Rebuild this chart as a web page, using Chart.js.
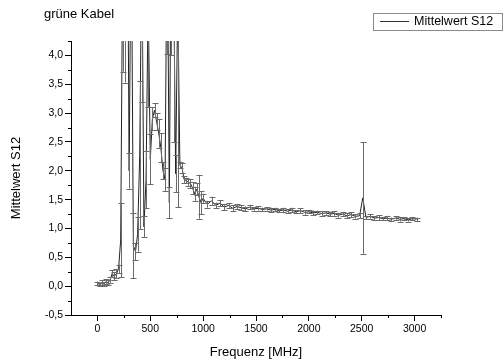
<!DOCTYPE html>
<html>
<head>
<meta charset="utf-8">
<script src="https://cdn.jsdelivr.net/npm/chart.js@4"></script>
<style>
  html, body { margin: 0; padding: 0; background: #fff; }
  canvas { display: block; }
</style>
</head>
<body>
<canvas id="s12Chart" width="504" height="364"></canvas>
<script>
// Messdaten: Frequenz in MHz, Mittelwert S12 und Fehler
var freq = [
  0, 20, 40, 60, 80, 100, 120, 140, 160, 180,
  200, 220, 240, 260, 280, 300, 320, 340, 360, 380,
  400, 420, 440, 460, 480, 500, 520, 540, 560, 580,
  600, 620, 640, 660, 680, 700, 720, 740, 760, 780,
  800, 820, 840, 860, 880, 900, 920, 940, 960, 980,
  1000, 1040, 1080, 1120, 1160, 1200, 1240, 1280, 1320, 1360,
  1400, 1440, 1480, 1520, 1560, 1600, 1640, 1680, 1720, 1760,
  1800, 1840, 1880, 1920, 1960, 2000, 2040, 2080, 2120, 2160,
  2200, 2240, 2280, 2320, 2360, 2400, 2440, 2480, 2510, 2540,
  2580, 2620, 2660, 2700, 2740, 2780, 2820, 2860, 2900, 2940,
  2980, 3020
];
var s12 = [
  0.05, 0.03, 0.06, 0.04, 0.08, 0.06, 0.11, 0.22, 0.17, 0.22,
  0.30, 0.80, 6.0, 5.2, 8.0, 2.0, 6.5, 0.70, 0.60, 0.90,
  2.27, 6.0, 1.03, 1.85, 5.0, 2.2, 2.9, 3.05, 2.85, 2.65,
  2.4, 2.0, 1.85, 6.5, 1.45, 7.0, 5.5, 1.95, 5.0, 2.1,
  2.05, 1.85, 1.83, 1.80, 1.78, 1.70, 1.60, 1.68, 1.55, 1.45,
  1.52, 1.42, 1.48, 1.40, 1.44, 1.37, 1.40, 1.35, 1.38, 1.36,
  1.34, 1.37, 1.34, 1.35, 1.33, 1.34, 1.32, 1.33, 1.31, 1.32,
  1.30, 1.32, 1.29, 1.31, 1.28, 1.29, 1.27, 1.28, 1.26, 1.27,
  1.25, 1.26, 1.23, 1.25, 1.22, 1.24, 1.21, 1.22, 1.53, 1.19,
  1.21, 1.18, 1.19, 1.17, 1.18, 1.16, 1.18, 1.16, 1.17, 1.15,
  1.17, 1.16
];
var s12Err = [
  0.03, 0.03, 0.04, 0.03, 0.04, 0.04, 0.05, 0.06, 0.07, 0.08,
  0.07, 0.64, 2.28, 1.67, 3.0, 0.31, 2.0, 0.56, 0.15, 0.30,
  1.28, 2.8, 0.18, 0.50, 1.9, 0.43, 0.20, 0.12, 0.15, 0.25,
  0.25, 0.15, 0.20, 2.48, 0.27, 3.0, 3.0, 0.32, 3.63, 0.06,
  0.08, 0.06, 0.05, 0.06, 0.08, 0.10, 0.12, 0.10, 0.38, 0.20,
  0.08, 0.06, 0.07, 0.05, 0.05, 0.05, 0.04, 0.05, 0.04, 0.04,
  0.04, 0.04, 0.03, 0.04, 0.03, 0.03, 0.04, 0.03, 0.03, 0.04,
  0.03, 0.04, 0.03, 0.04, 0.04, 0.03, 0.04, 0.03, 0.04, 0.03,
  0.04, 0.04, 0.04, 0.03, 0.04, 0.04, 0.04, 0.04, 0.97, 0.03,
  0.04, 0.03, 0.04, 0.03, 0.04, 0.03, 0.03, 0.04, 0.03, 0.03,
  0.03, 0.03
];

// Achsenbeschriftung
var xTickValues = [0, 500, 1000, 1500, 2000, 2500, 3000];
var yTickValues = [-0.5, 0, 0.5, 1, 1.5, 2, 2.5, 3, 3.5, 4];
var xMinorTicks = [250, 750, 1250, 1750, 2250, 2750, 3250];
var yMinorTicks = [-0.25, 0.25, 0.75, 1.25, 1.75, 2.25, 2.75, 3.25, 3.75, 4.25];

var chartTitle = "grüne Kabel";
var seriesName = "Mittelwert S12";
var xTitle = "Frequenz [MHz]";
var yTitle = "Mittelwert S12";

var FONT = "'Liberation Sans', Arial, sans-serif";

var points = freq.map(function (f, i) {
  return { x: f, y: s12[i] };
});

// Fehlerbalken mit Kappen
var errorBars = {
  id: "errorBars",
  afterDatasetsDraw: function (chart) {
    var ctx = chart.ctx;
    var area = chart.chartArea;
    var xs = chart.scales.x;
    var ys = chart.scales.y;
    ctx.save();
    ctx.beginPath();
    ctx.rect(area.left, area.top, area.right - area.left, area.bottom - area.top);
    ctx.clip();
    ctx.strokeStyle = "#6a6a6a";
    ctx.lineWidth = 1;
    for (var i = 0; i < freq.length; i++) {
      var px = Math.round(xs.getPixelForValue(freq[i])) + 0.5;
      var top = ys.getPixelForValue(s12[i] + s12Err[i]);
      var bot = ys.getPixelForValue(s12[i] - s12Err[i]);
      ctx.beginPath();
      ctx.moveTo(px, top);
      ctx.lineTo(px, bot);
      ctx.moveTo(px - 3, Math.round(top) + 0.5);
      ctx.lineTo(px + 3, Math.round(top) + 0.5);
      ctx.moveTo(px - 3, Math.round(bot) + 0.5);
      ctx.lineTo(px + 3, Math.round(bot) + 0.5);
      ctx.stroke();
    }
    ctx.restore();
  },
};

// kleine Zwischenstriche, Titel und Legende
var decorations = {
  id: "decorations",
  afterDraw: function (chart) {
    var ctx = chart.ctx;
    var area = chart.chartArea;
    var xs = chart.scales.x;
    var ys = chart.scales.y;
    ctx.save();
    ctx.strokeStyle = "#000";
    ctx.lineWidth = 1;
    ctx.beginPath();
    xMinorTicks.forEach(function (v) {
      var px = Math.round(xs.getPixelForValue(v)) + 0.5;
      ctx.moveTo(px, area.bottom);
      ctx.lineTo(px, area.bottom + 3);
    });
    yMinorTicks.forEach(function (v) {
      var py = Math.round(ys.getPixelForValue(v)) + 0.5;
      ctx.moveTo(area.left - 3, py);
      ctx.lineTo(area.left, py);
    });
    ctx.stroke();

    ctx.fillStyle = "#000";
    ctx.textBaseline = "middle";
    ctx.textAlign = "left";
    ctx.font = "13px " + FONT;
    ctx.fillText(chartTitle, 44, 14);

    ctx.strokeStyle = "#8a8a8a";
    ctx.strokeRect(373.5, 13.5, 129, 17);
    ctx.strokeStyle = "#333";
    ctx.beginPath();
    ctx.moveTo(380, 21.5);
    ctx.lineTo(409, 21.5);
    ctx.stroke();
    ctx.font = "12.5px " + FONT;
    ctx.fillText(seriesName, 414, 22);
    ctx.restore();
  },
};

function axisTicks() {
  return {
    display: true,
    drawOnChartArea: false,
    drawTicks: true,
    tickLength: 6,
    tickColor: "#000",
    color: "#000",
  };
}

var ctx = document.getElementById("s12Chart").getContext("2d");

var s12Chart = new Chart(ctx, {
  type: "line",
  data: {
    datasets: [
      {
        label: seriesName,
        data: points,
        borderColor: "#222",
        borderWidth: 1,
        pointRadius: 0,
        tension: 0,
        fill: false,
      },
    ],
  },
  options: {
    responsive: false,
    animation: false,
    devicePixelRatio: 1,
    layout: { padding: { left: 5, right: 63, top: 41, bottom: 0 } },
    plugins: {
      legend: { display: false },
      title: { display: false },
      tooltip: { enabled: false },
    },
    scales: {
      x: {
        type: "linear",
        min: -250,
        max: 3250,
        grid: axisTicks(),
        border: { display: true, color: "#000", width: 1 },
        afterBuildTicks: function (scale) {
          scale.ticks = xTickValues.map(function (v) {
            return { value: v };
          });
        },
        ticks: {
          autoSkip: false,
          maxRotation: 0,
          padding: 2,
          color: "#000",
          font: { family: FONT, size: 10.5 },
          callback: function (v) {
            return String(v);
          },
        },
        title: {
          display: true,
          text: xTitle,
          color: "#000",
          font: { family: FONT, size: 13 },
          padding: { top: 0, bottom: 4 },
        },
        afterFit: function (scale) {
          scale.height = 49;
        },
      },
      y: {
        type: "linear",
        min: -0.5,
        max: 4.25,
        grid: axisTicks(),
        border: { display: true, color: "#000", width: 1 },
        afterBuildTicks: function (scale) {
          scale.ticks = yTickValues.map(function (v) {
            return { value: v };
          });
        },
        ticks: {
          autoSkip: false,
          padding: 2,
          color: "#000",
          font: { family: FONT, size: 10.5 },
          callback: function (v) {
            return v.toFixed(1).replace(".", ",");
          },
        },
        title: {
          display: true,
          text: yTitle,
          color: "#000",
          font: { family: FONT, size: 13 },
          padding: { top: 4, bottom: 0 },
        },
        afterFit: function (scale) {
          scale.width = 66;
        },
      },
    },
  },
  plugins: [errorBars, decorations],
});
</script>
</body>
</html>
